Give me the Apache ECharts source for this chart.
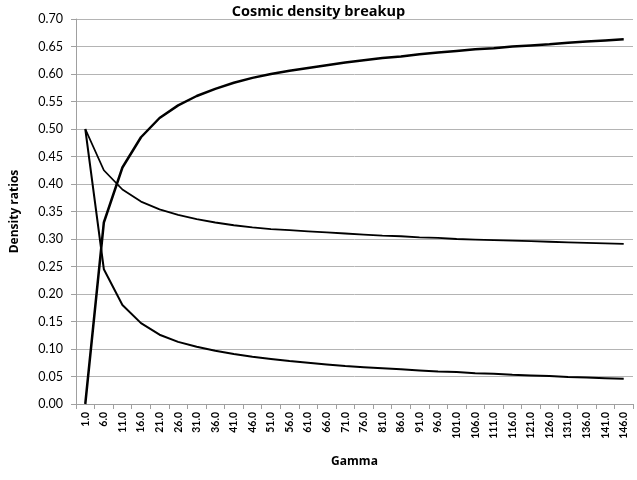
<!DOCTYPE html>
<html><head><meta charset="utf-8">
<script src="https://cdn.jsdelivr.net/npm/echarts@6/dist/echarts.min.js"></script>
<style>html,body{margin:0;padding:0;background:#fff}#c{width:637px;height:480px}</style>
</head><body><div id="c"></div>
<script>
const categories = ['1.0','6.0','11.0','16.0','21.0','26.0','31.0','36.0','41.0','46.0','51.0','56.0','61.0','66.0','71.0','76.0','81.0','86.0','91.0','96.0','101.0','106.0','111.0','116.0','121.0','126.0','131.0','136.0','141.0','146.0'];
const seriesA = [0,0.33,0.43,0.485,0.52,0.543,0.56,0.573,0.584,0.593,0.600,0.606,0.611,0.616,0.621,0.625,0.629,0.632,0.636,0.639,0.642,0.645,0.647,0.650,0.652,0.654,0.657,0.659,0.661,0.663];
const seriesB = [0.5,0.425,0.39,0.368,0.354,0.344,0.336,0.330,0.325,0.321,0.318,0.316,0.314,0.312,0.310,0.308,0.306,0.305,0.303,0.302,0.300,0.299,0.298,0.297,0.296,0.295,0.294,0.293,0.292,0.291];
const seriesC = [0.5,0.245,0.18,0.147,0.126,0.113,0.104,0.097,0.091,0.086,0.082,0.078,0.075,0.072,0.069,0.067,0.065,0.063,0.061,0.059,0.058,0.056,0.055,0.053,0.052,0.051,0.049,0.048,0.047,0.046];
const FONT = 'Lato';
const chart = echarts.init(document.getElementById('c'));
chart.setOption({
  animation:false,
  title:{text:'Cosmic density breakup',left:'center',top:-1,textStyle:{fontFamily:'Open Sans',fontSize:14.5,fontWeight:'bold',color:'#000'}},
  grid:{left:76,right:4,top:19,bottom:76},
  xAxis:{type:'category',data:categories,boundaryGap:true,
    name:'Gamma',nameLocation:'middle',nameGap:52,nameTextStyle:{fontFamily:'Open Sans',fontSize:12,fontWeight:'bold',color:'#000'},
    axisLine:{lineStyle:{color:'#a0a0a0'}},axisTick:{show:true,length:5,lineStyle:{color:'#a0a0a0'}},
    axisLabel:{rotate:90,interval:0,fontFamily:FONT,fontSize:10.5,fontWeight:'bold',color:'#000',margin:8},
    splitLine:{show:false}},
  yAxis:{type:'value',min:0,max:0.7,interval:0.05,
    name:'Density ratios',nameLocation:'middle',nameGap:55,nameTextStyle:{fontFamily:'Open Sans',fontSize:12,fontWeight:'bold',color:'#000'},
    axisLine:{show:true,lineStyle:{color:'#a0a0a0'}},axisTick:{show:true,length:5,lineStyle:{color:'#a0a0a0'}},
    axisLabel:{formatter:v=>v.toFixed(2),fontFamily:FONT,fontSize:12.5,color:'#000',margin:13},
    splitLine:{lineStyle:{color:'#b4b4b4'}}},
  series:[
    {type:'line',data:seriesA,symbol:'none',lineStyle:{color:'#000',width:2.5}},
    {type:'line',data:seriesB,symbol:'none',lineStyle:{color:'#000',width:1.8}},
    {type:'line',data:seriesC,symbol:'none',lineStyle:{color:'#000',width:2}}
  ]
});
</script></body></html>
